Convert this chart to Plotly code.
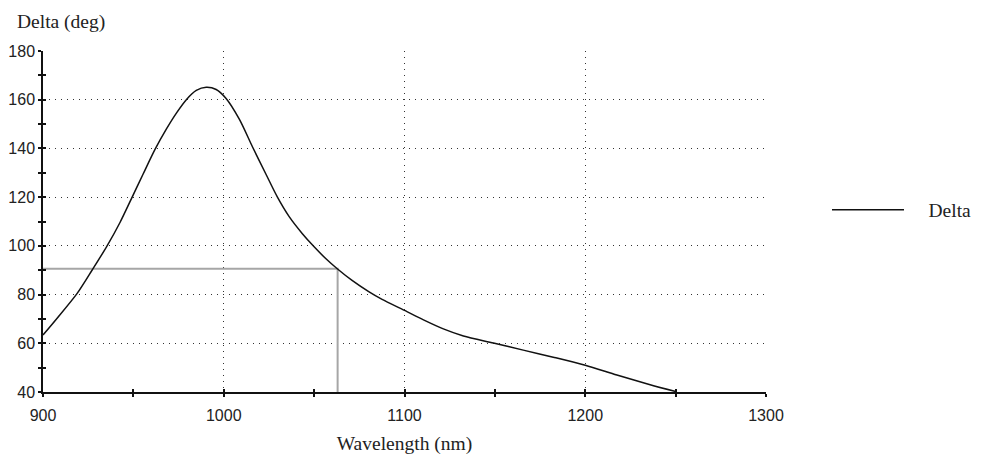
import plotly.graph_objects as go

wavelength = [900, 907.7, 919, 927.3, 935.3, 942.6, 949, 955.4, 961.9, 968.3, 973.8, 979.3,
              984.8, 990.3, 995.8, 1001.3, 1008.6, 1016, 1023.3, 1029.7, 1036.2, 1043.5, 1050,
              1056.4, 1062.8, 1071, 1080.2, 1087.6, 1100, 1110.5, 1121.5, 1132.6, 1149.2,
              1165.7, 1182.3, 1200, 1217.5, 1235.9, 1250]
delta = [63.4, 70.2, 80.6, 90.2, 99.8, 109.6, 119.5, 129.5, 139.5, 148, 154.5, 160,
         163.8, 165.1, 164.2, 160.5, 152, 140.5, 129.5, 120, 112, 105, 99.6,
         94.8, 90.6, 85.8, 81.2, 78, 73.5, 69.6, 65.9, 63.0, 60.1,
         57.2, 54.3, 51, 47.0, 43.0, 40.2]

marker_x = [900, 1063, 1063]
marker_y = [90.6, 90.6, 40]

x_ticks = [900, 1000, 1100, 1200, 1300]
y_ticks = [40, 60, 80, 100, 120, 140, 160, 180]

fig = go.Figure()
fig.add_trace(go.Scatter(x=marker_x, y=marker_y, mode="lines",
                         line=dict(color="#a6a6a6", width=2), showlegend=False, hoverinfo="skip"))
fig.add_trace(go.Scatter(x=wavelength, y=delta, mode="lines", name="\u00a0\u00a0\u00a0\u00a0Delta",
                         line=dict(color="#111111", width=1.5, shape="spline", smoothing=0.8)))
# invisible trace to activate overlay axes for crossing ticks
fig.add_trace(go.Scatter(x=[900], y=[40], xaxis="x2", yaxis="y2", mode="markers",
                         marker=dict(opacity=0), showlegend=False, hoverinfo="skip"))

grid_dash = "1px,5px"
tickfont = dict(family="Liberation Sans, Arial, sans-serif", size=16, color="#222222")
serif = "Liberation Serif, Times New Roman, serif"

# the page body adds an 8px offset; figure coords = window coords - 8
fig.update_layout(
    width=973, height=449,
    margin=dict(l=35, r=215, t=43, b=65, autoexpand=False),
    paper_bgcolor="white", plot_bgcolor="white",
    xaxis=dict(range=[900, 1300], tickvals=x_ticks, ticktext=[str(v) for v in x_ticks],
               ticks="outside", ticklen=3, tickwidth=1.5, tickcolor="#111111",
               minor=dict(tickvals=[950, 1050, 1150, 1250], ticks="outside", ticklen=3,
                          tickwidth=1.5, tickcolor="#111111", showgrid=False),
               showgrid=True, gridcolor="#333333", griddash=grid_dash, gridwidth=1,
               showline=True, linecolor="#111111", linewidth=1.5, zeroline=False,
               tickfont=tickfont, automargin=False, ticklabelstandoff=5,
               title=dict(text="Wavelength (nm)",
                          font=dict(family=serif, size=19.5, color="#222222"), standoff=13)),
    yaxis=dict(range=[40, 180], tickvals=y_ticks, ticktext=[str(v) for v in y_ticks],
               ticks="outside", ticklen=3, tickwidth=1.5, tickcolor="#111111",
               minor=dict(tickvals=[50, 70, 90, 110, 130, 150, 170], ticks="outside", ticklen=3,
                          tickwidth=1.5, tickcolor="#111111", showgrid=False),
               showgrid=True, gridcolor="#333333", griddash=grid_dash, gridwidth=1,
               showline=True, linecolor="#111111", linewidth=1.5, zeroline=False,
               tickfont=tickfont, automargin=False),
    xaxis2=dict(overlaying="x", range=[900, 1300], tickvals=[950, 1000, 1050, 1100, 1150, 1200, 1250, 1300],
                ticks="inside", ticklen=3, tickwidth=1.5, tickcolor="#111111", automargin=False,
                showticklabels=False, showgrid=False, zeroline=False, showline=False, side="bottom"),
    yaxis2=dict(overlaying="y", range=[40, 180], tickvals=list(range(50, 181, 10)),
                ticks="inside", ticklen=3, tickwidth=1.5, tickcolor="#111111", automargin=False,
                showticklabels=False, showgrid=False, zeroline=False, showline=False, side="left"),
    legend=dict(x=(819 - 35) / 723, y=1 - (202 - 43) / 341, xanchor="left", yanchor="middle",
                bgcolor="rgba(0,0,0,0)", itemwidth=72,
                font=dict(family=serif, size=19.5, color="#222222")),
)
fig.add_annotation(text="Delta (deg)", xref="paper", yref="paper", x=(7 - 35) / 723, y=1 + (43 - 13.5) / 341,
                   xanchor="left", yanchor="middle", showarrow=False,
                   font=dict(family=serif, size=19.5, color="#222222"))

fig.write_html("out.html")
